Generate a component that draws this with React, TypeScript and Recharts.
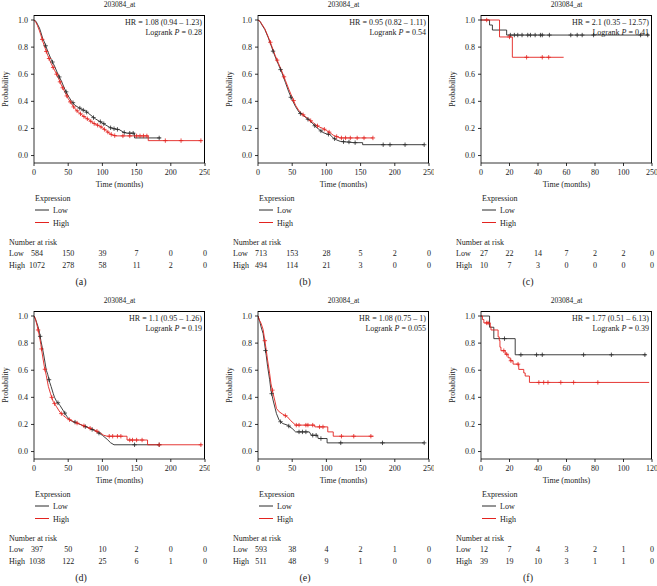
import React from "react";
import { ComposedChart, Line, Scatter, XAxis, YAxis } from "recharts";

type Pt = [number, number];

const FONT = "'Liberation Serif', 'Times New Roman', serif";
const LOW_COLOR = "#2a2a2a";
const HIGH_COLOR = "#e3231f";
const TEXT = "#222";

const TITLE = "203084_at";
const Y_TICKS = [0, 0.2, 0.4, 0.6, 0.8, 1.0];
const LONG_TICKS = [0, 50, 100, 150, 200, 250];
const SHORT_TICKS = [0, 20, 40, 60, 80, 100, 120];
const LONG_LABELS = ["0", "50", "100", "150", "200", "250"];
const C_LABELS = ["0", "20", "40", "60", "80", "100", "250"];
const F_LABELS = ["0", "20", "40", "60", "80", "100", "120"];

// (a)
const aLow: Pt[] = [[0, 1], [3, 0.99], [5, 0.97], [8, 0.94], [10, 0.91], [13, 0.86], [15, 0.84], [20, 0.77], [25, 0.71], [30, 0.66], [35, 0.6], [40, 0.55], [45, 0.49], [50, 0.44], [55, 0.4], [60, 0.37], [65, 0.355], [70, 0.34], [75, 0.33], [80, 0.31], [85, 0.29], [90, 0.27], [95, 0.255], [100, 0.24], [105, 0.225], [110, 0.21], [115, 0.2], [120, 0.195], [125, 0.19], [130, 0.175], [135, 0.165], [147, 0.165], [147, 0.13], [185, 0.13]];
const aHigh: Pt[] = [[0, 1], [3, 0.98], [5, 0.96], [8, 0.92], [10, 0.89], [13, 0.84], [15, 0.81], [20, 0.74], [25, 0.68], [30, 0.63], [35, 0.58], [40, 0.52], [45, 0.47], [50, 0.42], [55, 0.38], [60, 0.345], [65, 0.32], [70, 0.3], [75, 0.28], [80, 0.265], [85, 0.245], [90, 0.23], [95, 0.22], [100, 0.205], [105, 0.185], [110, 0.165], [115, 0.15], [120, 0.145], [167, 0.145], [167, 0.11], [245, 0.11]];
const aLowCens: Pt[] = [[17, 0.81], [27, 0.69], [37, 0.58], [47, 0.47], [57, 0.39], [67, 0.35], [72, 0.335], [77, 0.32], [87, 0.28], [97, 0.25], [102, 0.235], [112, 0.205], [117, 0.198], [122, 0.193], [132, 0.17], [140, 0.165], [145, 0.165], [183, 0.13]];
const aHighCens: Pt[] = [[12, 0.857], [18, 0.768], [22, 0.716], [28, 0.65], [33, 0.6], [38, 0.544], [42, 0.5], [48, 0.44], [53, 0.396], [58, 0.359], [63, 0.33], [68, 0.308], [73, 0.288], [78, 0.271], [83, 0.253], [88, 0.236], [93, 0.224], [98, 0.211], [103, 0.193], [108, 0.173], [113, 0.156], [118, 0.147], [130, 0.145], [140, 0.145], [150, 0.145], [155, 0.145], [160, 0.145], [165, 0.145], [192, 0.11], [215, 0.11], [244, 0.11]];
const aRiskLow = ["584", "150", "39", "7", "0", "0"];
const aRiskHigh = ["1072", "278", "58", "11", "2", "0"];

// (b)
const bLow: Pt[] = [[0, 1], [3, 0.99], [5, 0.97], [10, 0.93], [15, 0.87], [20, 0.8], [25, 0.73], [30, 0.67], [35, 0.61], [40, 0.54], [45, 0.47], [50, 0.41], [55, 0.36], [60, 0.32], [65, 0.3], [70, 0.28], [75, 0.26], [80, 0.235], [85, 0.21], [90, 0.19], [95, 0.17], [100, 0.16], [105, 0.155], [110, 0.13], [115, 0.115], [120, 0.105], [130, 0.1], [140, 0.095], [153, 0.095], [153, 0.08], [243, 0.08]];
const bHigh: Pt[] = [[0, 1], [3, 0.99], [5, 0.975], [10, 0.935], [15, 0.875], [20, 0.81], [25, 0.74], [30, 0.68], [35, 0.62], [40, 0.555], [45, 0.49], [50, 0.43], [55, 0.37], [60, 0.33], [65, 0.305], [70, 0.285], [75, 0.265], [80, 0.245], [85, 0.225], [90, 0.21], [95, 0.2], [100, 0.185], [105, 0.17], [110, 0.15], [115, 0.14], [120, 0.13], [168, 0.13]];
const bLowCens: Pt[] = [[22, 0.77], [33, 0.634], [48, 0.43], [62, 0.31], [73, 0.268], [83, 0.22], [92, 0.182], [103, 0.157], [112, 0.124], [125, 0.102], [133, 0.1], [142, 0.095], [183, 0.08], [193, 0.08], [215, 0.08], [243, 0.08]];
const bHighCens: Pt[] = [[18, 0.836], [28, 0.704], [38, 0.581], [52, 0.406], [66, 0.301], [77, 0.257], [87, 0.219], [97, 0.194], [104, 0.173], [115, 0.14], [122, 0.13], [128, 0.13], [135, 0.13], [145, 0.13], [155, 0.13], [168, 0.13]];
const bRiskLow = ["713", "153", "28", "5", "2", "0"];
const bRiskHigh = ["494", "114", "21", "3", "0", "0"];

// (c)
const cLow: Pt[] = [[0, 1], [6, 0.963], [8, 0.926], [18, 0.889], [118, 0.889]];
const cHigh: Pt[] = [[0, 1], [13, 0.875], [22, 0.725], [58, 0.725]];
const cLowCens: Pt[] = [[20.6, 0.889], [23.4, 0.889], [25.8, 0.889], [28.8, 0.889], [32.8, 0.889], [34.7, 0.889], [38, 0.889], [41.7, 0.889], [43, 0.889], [48, 0.889], [63, 0.889], [67.5, 0.889], [71, 0.889], [79, 0.889], [112, 0.889], [117, 0.889]];
const cHighCens: Pt[] = [[4, 1], [20, 0.875], [32, 0.725], [43, 0.725], [47.5, 0.725]];
const cRiskLow = ["27", "22", "14", "7", "2", "2", "0"];
const cRiskHigh = ["10", "7", "3", "0", "0", "0", "0"];

// (d)
const dLow: Pt[] = [[0, 1], [2, 0.98], [4, 0.95], [6, 0.92], [8, 0.88], [10, 0.82], [12, 0.77], [14, 0.72], [16, 0.66], [18, 0.6], [20, 0.57], [23, 0.51], [25, 0.48], [28, 0.43], [30, 0.4], [33, 0.37], [38, 0.34], [43, 0.3], [48, 0.26], [53, 0.23], [58, 0.22], [63, 0.21], [72, 0.19], [82, 0.17], [92, 0.145], [100, 0.12], [107, 0.09], [112, 0.065], [117, 0.05], [183, 0.05]];
const dHigh: Pt[] = [[0, 1], [2, 0.98], [5, 0.92], [8, 0.85], [10, 0.79], [13, 0.69], [15, 0.63], [18, 0.56], [21, 0.48], [24, 0.43], [28, 0.37], [33, 0.33], [38, 0.29], [43, 0.265], [48, 0.245], [58, 0.22], [68, 0.2], [78, 0.18], [87, 0.163], [97, 0.138], [102, 0.12], [107, 0.113], [136, 0.113], [136, 0.085], [166, 0.085], [166, 0.05], [245, 0.05]];
const dLowCens: Pt[] = [[9, 0.85], [22, 0.53], [35, 0.36], [45, 0.284], [60, 0.217], [75, 0.184], [85, 0.163], [95, 0.136], [147, 0.05], [183, 0.05]];
const dHighCens: Pt[] = [[6, 0.897], [11, 0.757], [16, 0.607], [26, 0.4], [30, 0.354], [40, 0.28], [52, 0.235], [63, 0.21], [73, 0.19], [82, 0.172], [92, 0.15], [110, 0.113], [115, 0.113], [122, 0.113], [127, 0.113], [140, 0.085], [144, 0.085], [150, 0.085], [158, 0.085], [183, 0.05], [244, 0.05]];
const dRiskLow = ["397", "50", "10", "2", "0", "0"];
const dRiskHigh = ["1038", "122", "25", "6", "1", "0"];

// (e)
const eLow: Pt[] = [[0, 1], [2.5, 0.96], [4.5, 0.92], [7.5, 0.87], [9.5, 0.8], [12, 0.71], [14, 0.63], [17, 0.53], [19, 0.45], [22, 0.38], [25, 0.32], [27, 0.28], [31, 0.23], [36, 0.207], [43, 0.195], [50, 0.17], [55, 0.145], [75, 0.145], [78, 0.12], [87, 0.12], [88, 0.096], [101, 0.096], [101, 0.064], [243, 0.064]];
const eHigh: Pt[] = [[0, 1], [2, 0.97], [4.5, 0.946], [7.5, 0.9], [9.5, 0.835], [12, 0.75], [14, 0.675], [17, 0.576], [19, 0.5], [22, 0.43], [25, 0.367], [27, 0.318], [31, 0.293], [36, 0.276], [43, 0.256], [48, 0.227], [55, 0.195], [83, 0.195], [83, 0.182], [102, 0.182], [102, 0.145], [110, 0.145], [110, 0.113], [169, 0.113]];
const eLowCens: Pt[] = [[11, 0.745], [20, 0.427], [33, 0.22], [45, 0.188], [60, 0.145], [65, 0.145], [70, 0.145], [80, 0.12], [85, 0.12], [92, 0.096], [121, 0.064], [182, 0.064], [243, 0.064]];
const eHighCens: Pt[] = [[10, 0.818], [21, 0.453], [40, 0.265], [56, 0.195], [60, 0.195], [70, 0.195], [73, 0.195], [80, 0.195], [90, 0.182], [95, 0.182], [122, 0.113], [140, 0.113], [165, 0.113]];
const eRiskLow = ["593", "38", "4", "2", "1", "0"];
const eRiskHigh = ["511", "48", "9", "1", "0", "0"];

// (f)
const fLow: Pt[] = [[0, 1], [6, 0.917], [9, 0.833], [24, 0.714], [116, 0.714]];
const fHigh: Pt[] = [[0, 1], [1, 0.974], [2, 0.949], [6.5, 0.923], [7, 0.897], [12, 0.846], [12.8, 0.82], [13.3, 0.77], [14, 0.744], [17, 0.718], [19, 0.692], [20.5, 0.67], [22.5, 0.645], [26.5, 0.606], [30, 0.58], [31, 0.557], [34, 0.51], [118, 0.51]];
const fLowCens: Pt[] = [[16.5, 0.833], [28, 0.714], [39, 0.714], [43, 0.714], [72, 0.714], [91.5, 0.714], [115, 0.714]];
const fHighCens: Pt[] = [[4, 0.949], [5, 0.949], [16, 0.744], [18, 0.718], [21, 0.67], [26, 0.645], [40.6, 0.51], [44, 0.51], [47, 0.51], [56, 0.51], [65, 0.51], [82, 0.51]];
const fRiskLow = ["12", "7", "4", "3", "2", "1", "0"];
const fRiskHigh = ["39", "19", "10", "3", "1", "1", "0"];

const Y_DOMAIN: [number, number] = [-0.055, 1.037];

interface PanelProps {
  left: number;
  top: number;
  letter: string;
  hr: string;
  p: string;
  ticks: number[];
  tickLabels: string[];
  xMax: number;
  low: Pt[];
  high: Pt[];
  lowCens: Pt[];
  highCens: Pt[];
  riskLow: string[];
  riskHigh: string[];
  step?: boolean;
}

const toObj = (arr: Pt[]) => arr.map(([t, s]) => ({ t, s }));

const cross = (color: string) => (props: any) => {
  const { cx, cy } = props;
  if (cx == null || cy == null) return <g />;
  return (
    <path
      d={`M${cx - 2.2},${cy}H${cx + 2.2}M${cx},${cy - 2.2}V${cy + 2.2}`}
      stroke={color}
      strokeWidth={0.8}
      fill="none"
    />
  );
};

function Panel(props: PanelProps) {
  const W = 210;
  const H = 290;
  const PL = 34;
  const PW = 171;
  const PT = 15;
  const PB = 163;
  const cx = PL + PW / 2;
  const txt = { fontFamily: FONT, fill: TEXT };

  const renderTick = (t: any) => {
    const { x, index } = t;
    const dx = index === 0 ? 3 : 0;
    return (
      <g>
        <text x={x} y={175} textAnchor="middle" fontSize={8} {...txt}>
          {props.tickLabels[index]}
        </text>
        <text x={x + dx} y={256} textAnchor="middle" fontSize={8} {...txt}>
          {props.riskLow[index]}
        </text>
        <text x={x + dx} y={268} textAnchor="middle" fontSize={8} {...txt}>
          {props.riskHigh[index]}
        </text>
      </g>
    );
  };

  const curve = props.step ? "stepAfter" : "linear";

  return (
    <div style={{ position: "absolute", left: props.left, top: props.top, width: W, height: H }}>
      <div
        style={{
          position: "absolute",
          left: PL,
          top: PT,
          width: PW,
          height: PB - PT,
          boxSizing: "border-box",
          borderTop: "1px solid #000",
          borderRight: "1px solid #000",
        }}
      />
      <ComposedChart width={W} height={H} margin={{ top: PT, right: W - PL - PW, bottom: 0, left: 0 }}>
        <XAxis
          type="number"
          dataKey="t"
          domain={[0, props.xMax]}
          ticks={props.ticks}
          interval={0}
          allowDataOverflow
          height={H - PB}
          tickSize={3}
          tick={renderTick}
          stroke="#000"
          strokeWidth={0.8}
        />
        <YAxis
          type="number"
          dataKey="s"
          domain={Y_DOMAIN}
          ticks={Y_TICKS}
          interval={0}
          allowDataOverflow
          width={PL}
          tickSize={3}
          tickMargin={3}
          tickFormatter={(v: number) => v.toFixed(1)}
          tick={{ fontSize: 8, fill: TEXT, fontFamily: FONT }}
          stroke="#000"
          strokeWidth={0.8}
        />
        <Line data={toObj(props.low)} dataKey="s" type={curve} stroke={LOW_COLOR} strokeWidth={0.9} dot={false} isAnimationActive={false} />
        <Line data={toObj(props.high)} dataKey="s" type={curve} stroke={HIGH_COLOR} strokeWidth={0.9} dot={false} isAnimationActive={false} />
        <Scatter data={toObj(props.lowCens)} dataKey="s" shape={cross(LOW_COLOR)} isAnimationActive={false} />
        <Scatter data={toObj(props.highCens)} dataKey="s" shape={cross(HIGH_COLOR)} isAnimationActive={false} />
      </ComposedChart>
      <svg
        width={W}
        height={H}
        style={{ position: "absolute", left: 0, top: 0, pointerEvents: "none", overflow: "visible" }}
      >
        <text x={cx} y={6.5} textAnchor="middle" fontSize={7.5} {...txt}>
          {TITLE}
        </text>
        <text x={PL + PW - 3} y={25} textAnchor="end" fontSize={8} {...txt}>
          {props.hr}
        </text>
        <text x={PL + PW - 3} y={35} textAnchor="end" fontSize={8} {...txt}>
          Logrank <tspan fontStyle="italic">P</tspan> = {props.p}
        </text>
        <text
          x={8}
          y={89}
          textAnchor="middle"
          fontSize={8}
          transform="rotate(-90, 8, 89)"
          {...txt}
        >
          Probability
        </text>
        <text x={cx} y={187} textAnchor="middle" fontSize={8} {...txt}>
          Time (months)
        </text>
        <text x={PL + 1} y={201} fontSize={8} {...txt}>
          Expression
        </text>
        <line x1={PL + 1} x2={PL + 15} y1={210} y2={210} stroke={LOW_COLOR} strokeWidth={1} />
        <text x={PL + 19} y={213} fontSize={8} {...txt}>
          Low
        </text>
        <line x1={PL + 1} x2={PL + 15} y1={222.5} y2={222.5} stroke={HIGH_COLOR} strokeWidth={1} />
        <text x={PL + 19} y={225.5} fontSize={8} {...txt}>
          High
        </text>
        <text x={PL - 25} y={244.5} fontSize={8} {...txt}>
          Number at risk
        </text>
        <text x={PL - 25} y={256} fontSize={8} {...txt}>
          Low
        </text>
        <text x={PL - 25} y={268} fontSize={8} {...txt}>
          High
        </text>
        <text x={PL + 47} y={285} textAnchor="middle" fontSize={10} {...txt}>
          {props.letter}
        </text>
      </svg>
    </div>
  );
}

export default function App() {
  const ROW2 = 296;
  const COLS = [0, 224, 447];
  return (
    <div
      style={{
        position: "absolute",
        left: 0,
        top: 0,
        width: 657,
        height: 586,
        background: "#fff",
        overflow: "hidden",
      }}
    >
      <Panel left={COLS[0]} top={0} letter="(a)" hr="HR = 1.08 (0.94 – 1.23)" p="0.28" ticks={LONG_TICKS} tickLabels={LONG_LABELS} xMax={250} low={aLow} high={aHigh} lowCens={aLowCens} highCens={aHighCens} riskLow={aRiskLow} riskHigh={aRiskHigh} />
      <Panel left={COLS[1]} top={0} letter="(b)" hr="HR = 0.95 (0.82 – 1.11)" p="0.54" ticks={LONG_TICKS} tickLabels={LONG_LABELS} xMax={250} low={bLow} high={bHigh} lowCens={bLowCens} highCens={bHighCens} riskLow={bRiskLow} riskHigh={bRiskHigh} />
      <Panel left={COLS[2]} top={0} letter="(c)" hr="HR = 2.1 (0.35 – 12.57)" p="0.41" ticks={SHORT_TICKS} tickLabels={C_LABELS} xMax={120} low={cLow} high={cHigh} lowCens={cLowCens} highCens={cHighCens} riskLow={cRiskLow} riskHigh={cRiskHigh} step />
      <Panel left={COLS[0]} top={ROW2} letter="(d)" hr="HR = 1.1 (0.95 – 1.26)" p="0.19" ticks={LONG_TICKS} tickLabels={LONG_LABELS} xMax={250} low={dLow} high={dHigh} lowCens={dLowCens} highCens={dHighCens} riskLow={dRiskLow} riskHigh={dRiskHigh} />
      <Panel left={COLS[1]} top={ROW2} letter="(e)" hr="HR = 1.08 (0.75 – 1)" p="0.055" ticks={LONG_TICKS} tickLabels={LONG_LABELS} xMax={250} low={eLow} high={eHigh} lowCens={eLowCens} highCens={eHighCens} riskLow={eRiskLow} riskHigh={eRiskHigh} />
      <Panel left={COLS[2]} top={ROW2} letter="(f)" hr="HR = 1.77 (0.51 – 6.13)" p="0.39" ticks={SHORT_TICKS} tickLabels={F_LABELS} xMax={120} low={fLow} high={fHigh} lowCens={fLowCens} highCens={fHighCens} riskLow={fRiskLow} riskHigh={fRiskHigh} step />
    </div>
  );
}
